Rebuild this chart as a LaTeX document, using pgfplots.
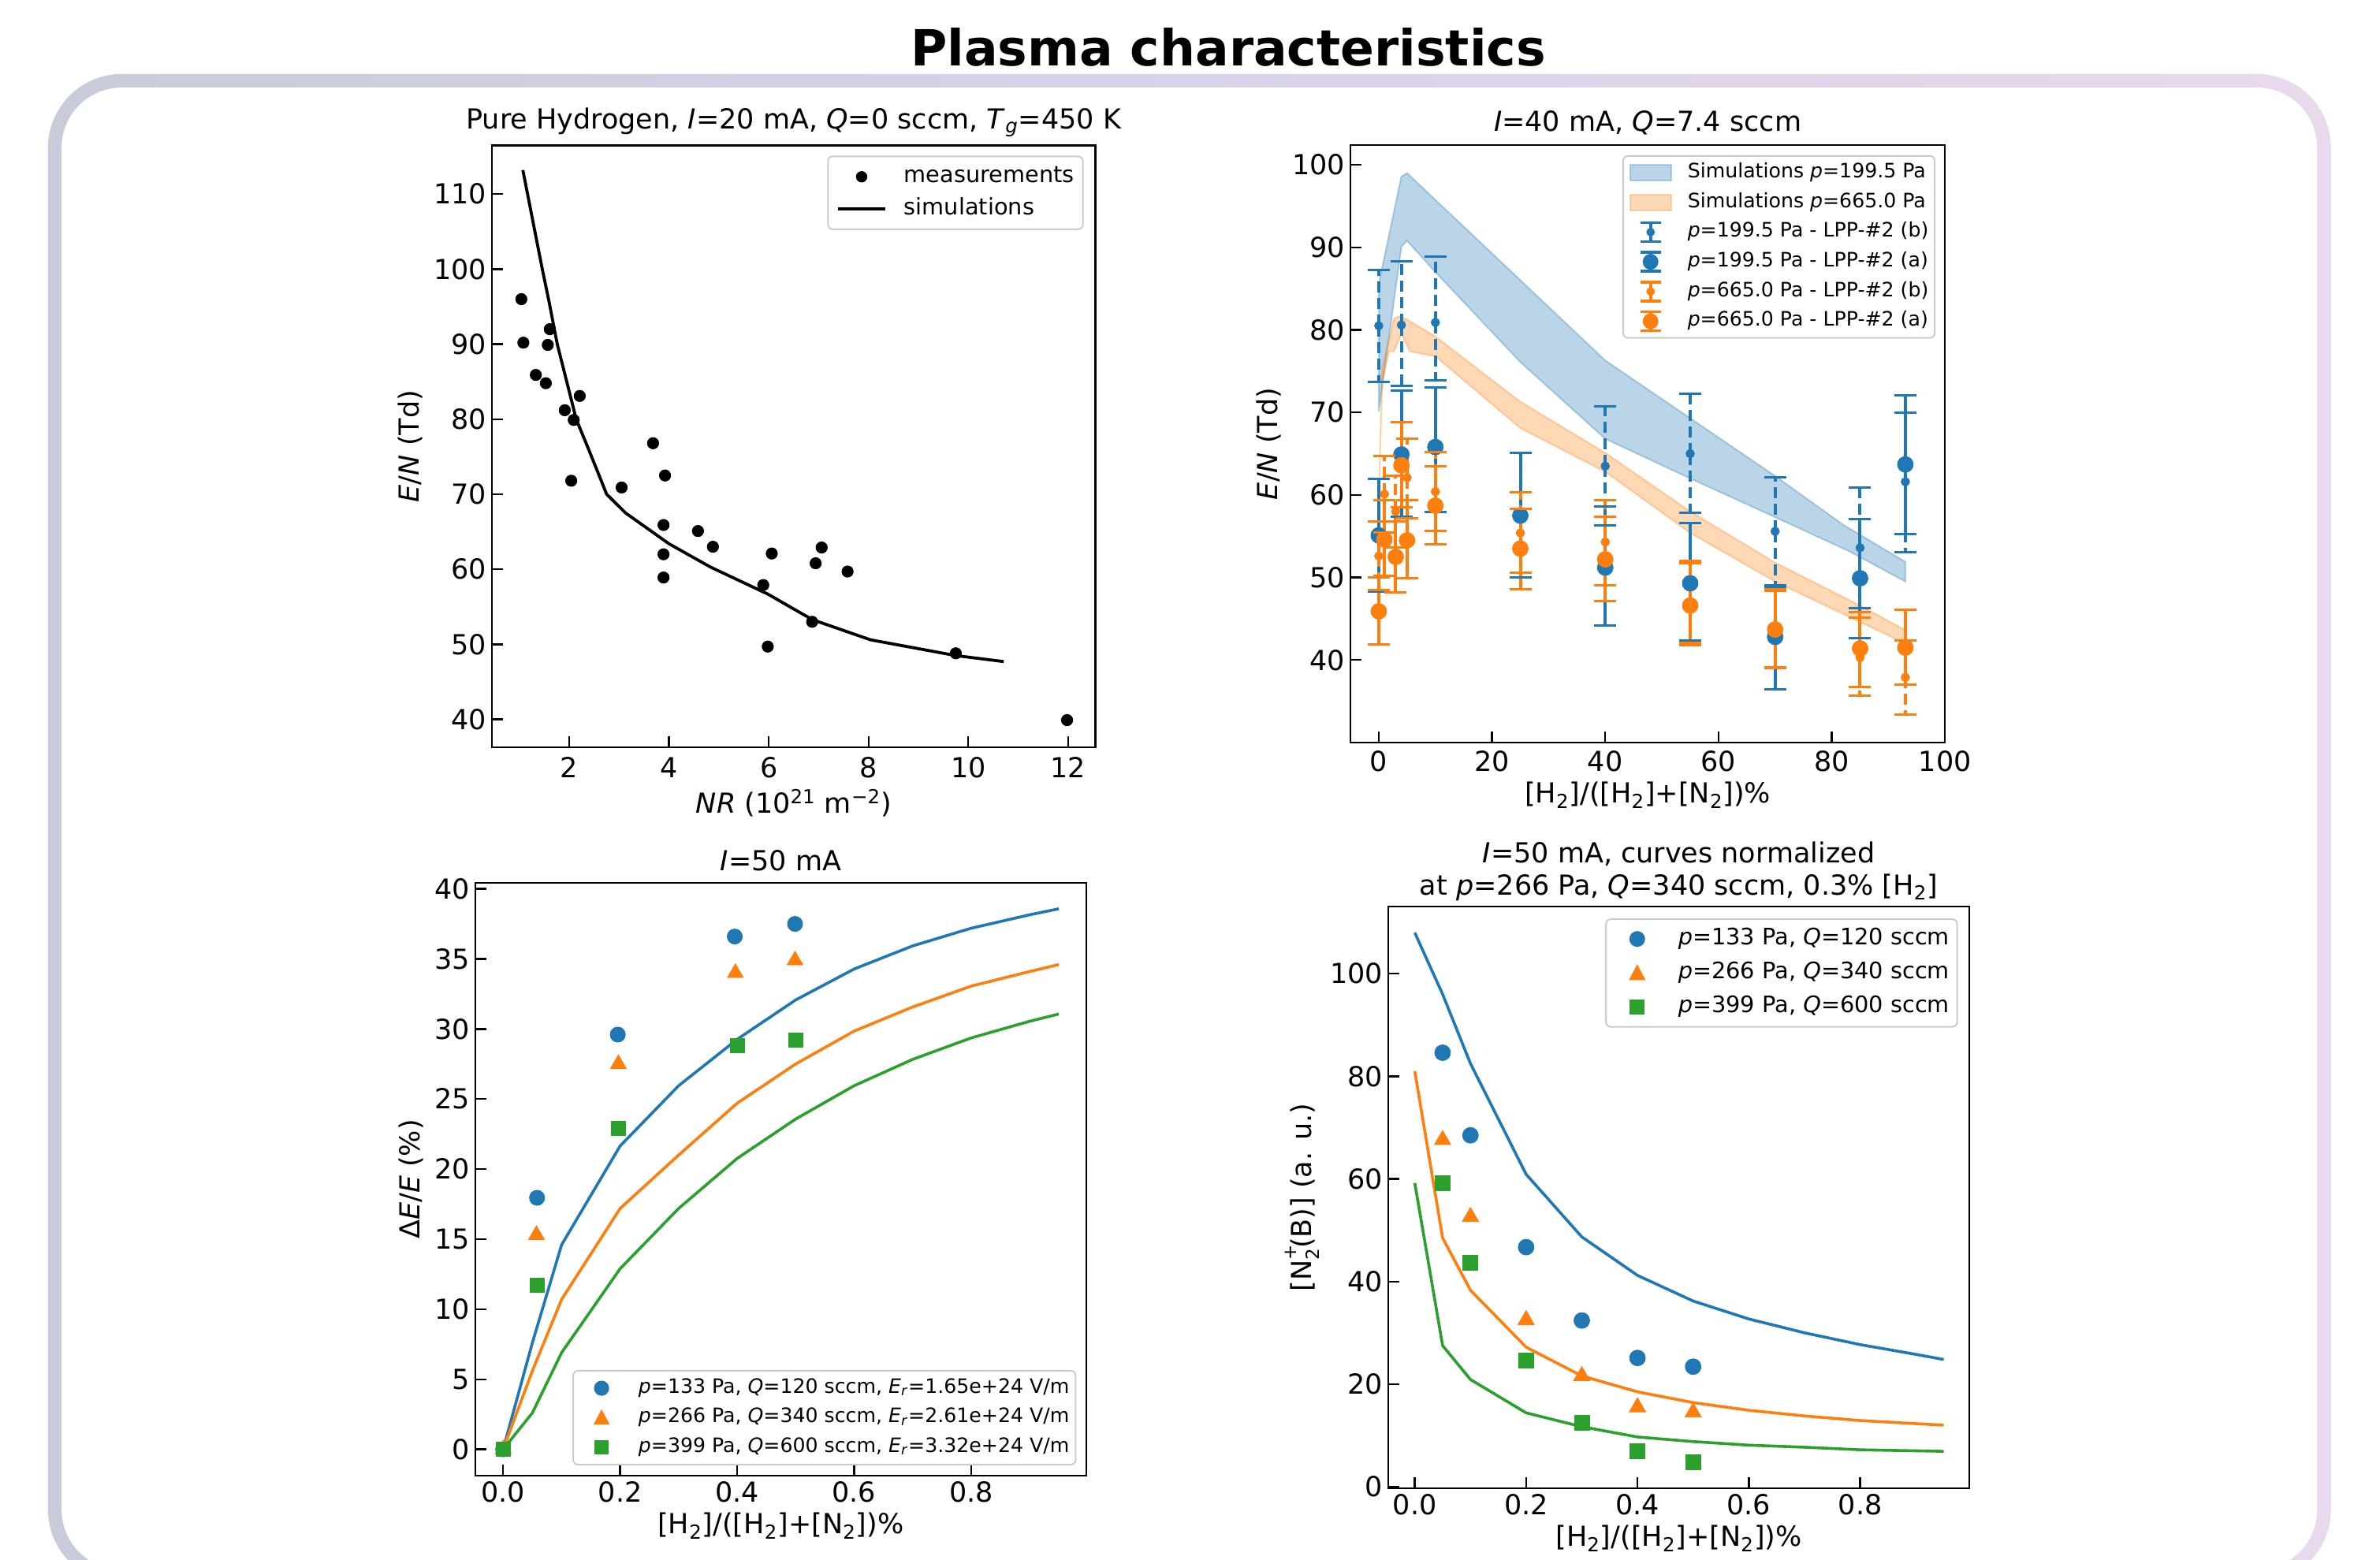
\documentclass[border=0pt]{standalone}
\usepackage{fontspec}
\setmainfont{DejaVu Sans}
\usepackage{pgfplots}
\usepackage{pgfplotstable}
\pgfplotsset{compat=1.18}

\definecolor{c1}{HTML}{1F77B4}
\definecolor{c2}{HTML}{FF7F0E}
\definecolor{c3}{HTML}{2CA02C}
\definecolor{frameL}{RGB}{200,204,218}
\definecolor{frameM}{RGB}{216,210,234}
\definecolor{frameR}{RGB}{233,217,236}
\definecolor{legframe}{RGB}{204,204,204}

\newcommand{\fm}{\fontsize{17.5}{20}\selectfont}
\newcommand{\fl}{\fontsize{14.4}{17}\selectfont}
\newcommand{\fs}{\fontsize{12.6}{15}\selectfont}

\pgfdeclareplotmark{hcap}{\pgfpathmoveto{\pgfqpoint{-7pt}{0pt}}\pgfpathlineto{\pgfqpoint{7pt}{0pt}}\pgfusepathqstroke}

\pgfplotsset{
  panel/.style={
    scale only axis, anchor=south west,
    axis line style={line width=1.2pt},
    every tick/.style={black, line width=1.2pt},
    major tick length=7pt,
    tick align=inside,
    xtick pos=left, ytick pos=left,
    font=\fm,
    tick label style={font=\fm},
    label style={font=\fm},
    title style={font=\fm},
    /pgf/number format/assume math mode=true,
    legend cell align=left,
    legend style={draw=legframe, line width=1pt, rounded corners=3pt, fill=white},
  },
  leg/.style n args={6}{legend style={font=#1, inner xsep=#2, inner ysep=#3,
      nodes={inner sep=0pt, text height=#4, text depth=#5},
      /tikz/every odd column/.style={column sep=#6}}},
  eb/.style={forget plot, only marks, mark=*,
    error bars/y dir=both, error bars/y explicit, error bars/error mark=none},
  cap/.style={forget plot, only marks, mark=hcap, mark options={solid, line width=1.5pt}},
}

\pgfplotstableread{
x y ep em
0 80.5 6.8 6.8
4 80.6 7.7 7.4
10 80.9 8.0 7.0
40 63.5 7.2 7.2
55 65.0 7.3 7.2
70 55.6 6.5 6.5
85 53.6 7.3 7.3
93 61.6 8.4 8.5
}\blueb
\pgfplotstableread{
x y ep em
0 55.1 6.8 6.8
4 64.9 7.7 7.5
10 65.8 7.2 7.9
25 57.5 7.6 7.5
40 51.2 7.4 7.0
55 49.3 7.3 6.9
70 42.8 6.1 6.4
85 49.9 7.2 7.2
93 63.7 8.4 8.4
}\bluea
\pgfplotstableread{
x y ep em
0 52.6 4.2 4.1
1 60.1 4.6 4.6
3 58.0 4.3 4.4
5 62.1 4.7 4.9
10 60.4 4.8 4.8
25 55.4 4.9 4.8
40 54.3 5.1 5.2
55 46.9 5.1 4.8
70 43.8 4.8 4.7
85 40.3 4.8 4.6
93 37.9 4.5 4.5
}\orangeb
\pgfplotstableread{
x y ep em
0 45.9 4.1 4.0
1 54.6 4.8 4.4
3 52.5 4.3 4.3
4 63.6 5.2 5.1
5 54.5 4.9 4.6
10 58.7 4.8 4.7
25 53.5 4.8 4.9
40 52.2 5.2 5.1
55 46.6 5.1 4.8
70 43.7 4.7 4.7
85 41.4 4.4 4.7
93 41.5 4.6 4.5
}\orangea

\begin{document}
\begin{tikzpicture}
\fill[white] (0,0) rectangle (1509.5pt,989.5pt);
\path[use as bounding box] (0,0) rectangle (1509.5pt,989.5pt);
\begin{scope}
\clip (0,0) rectangle (1509.5pt,989.5pt);
\shade[rounded corners=47pt, left color=frameL, right color=frameR, middle color=frameM] (30.4pt,-14.9pt) rectangle (1478.4pt,942.6pt);
\fill[white, rounded corners=38pt] (39.1pt,-6.1pt) rectangle (1469.6pt,933.9pt);
\end{scope}
\node[font=\fontsize{31.6}{36}\selectfont\bfseries, anchor=base] at (779pt,947.5pt) {Plasma characteristics};

% ---------------- Panel 1
\begin{axis}[panel, at={(312pt,515.6pt)}, width=382.8pt, height=381.7pt,
  xmin=0.45, xmax=12.55, ymin=36.3, ymax=116.5,
  xtick={2,4,6,8,10,12}, ytick={40,50,60,70,80,90,100,110},
  xticklabel style={yshift=-3pt},
  title style={yshift=-4pt},
  title={Pure Hydrogen, \textit{I}=20 mA, \textit{Q}=0 sccm, \textit{T}\textsubscript{\textit{g}}=450 K},
  xlabel={\textit{NR} (10\textsuperscript{21} m\textsuperscript{−2})},
  ylabel={\textit{E}/\textit{N} (Td)},
  leg={\fl}{5.4pt}{2.8pt}{13.75pt}{6.55pt}{11pt},
  legend style={at={(1,1)}, anchor=north east, xshift=-7.5pt, yshift=-6.5pt}]
\addlegendimage{legend image code/.code={\path[draw=none] (0pt,-5pt) rectangle (30pt,5pt); \fill[black, draw=none] (15pt,0pt) circle (3.6pt);}}
\addlegendentry{measurements}
\addlegendimage{legend image code/.code={\path[draw=none] (0pt,-5pt) rectangle (30pt,5pt); \draw[black, line width=1.9pt] (0pt,0pt) -- (30pt,0pt);}}
\addlegendentry{simulations}
\addplot[forget plot, only marks, mark=*, mark size=3.6pt, black] coordinates {
(1.04,96.0) (1.08,90.2) (1.33,85.9) (1.53,84.8) (1.57,89.9) (1.61,92.0)
(1.91,81.2) (2.04,71.8) (2.09,79.9) (2.21,83.1) (3.05,70.9) (3.68,76.8)
(3.92,72.5) (3.89,65.9) (3.89,62.0) (3.89,58.9) (4.58,65.1) (4.88,63.0)
(5.89,57.9) (5.98,49.7) (6.06,62.1) (6.87,53.0) (6.94,60.8) (7.06,62.9)
(7.58,59.7) (9.75,48.8) (11.98,39.9)};
\addplot[forget plot, black, line width=1.9pt] coordinates {
(1.07,113.2) (1.2,108.8) (1.3,105.4) (1.46,100) (1.6,95.5) (1.76,90)
(1.95,85) (2.14,80) (2.4,75.8) (2.75,70) (3.13,67.5) (4.0,63.4)
(4.83,60.3) (5.98,56.7) (6.87,53.3) (8.04,50.6) (9.75,48.5) (10.71,47.7)};
\end{axis}

% ---------------- Panel 2
\begin{axis}[panel, at={(856.5pt,518.5pt)}, width=377.1pt, height=379pt,
  xmin=-5, xmax=100, ymin=30, ymax=102.4,
  xtick={0,20,40,60,80,100}, ytick={40,50,60,70,80,90,100},
  xticklabel style={yshift=-1.5pt},
  title style={yshift=-3pt},
  title={\textit{I}=40 mA, \textit{Q}=7.4 sccm},
  xlabel={[H\textsubscript{2}]/([H\textsubscript{2}]+[N\textsubscript{2}])\%},
  ylabel={\textit{E}/\textit{N} (Td)},
  leg={\fs}{3.9pt}{1.1pt}{12.575pt}{6.275pt}{10pt},
  legend style={at={(1,1)}, anchor=north east, xshift=-6pt, yshift=-6.5pt}]
\addlegendimage{legend image code/.code={\fill[c1, fill opacity=0.3, draw=none, sharp corners] (0pt,-5pt) rectangle (26pt,5pt); \draw[c1, draw opacity=0.3, line width=1pt, sharp corners] (0pt,-5pt) rectangle (26pt,5pt);}}
\addlegendentry{Simulations \textit{p}=199.5 Pa}
\addlegendimage{legend image code/.code={\fill[c2, fill opacity=0.3, draw=none, sharp corners] (0pt,-5pt) rectangle (26pt,5pt); \draw[c2, draw opacity=0.3, line width=1pt, sharp corners] (0pt,-5pt) rectangle (26pt,5pt);}}
\addlegendentry{Simulations \textit{p}=665.0 Pa}
\addlegendimage{legend image code/.code={\path[draw=none] (0pt,-6pt) rectangle (26pt,6pt); \draw[c1, line width=1.8pt, sharp corners] (13pt,-6pt) -- (13pt,6pt) (6.5pt,-6pt) -- (19.5pt,-6pt) (6.5pt,6pt) -- (19.5pt,6pt); \fill[c1, draw=none] (13pt,0pt) circle (2.7pt);}}
\addlegendentry{\textit{p}=199.5 Pa - LPP-\#2 (b)}
\addlegendimage{legend image code/.code={\path[draw=none] (0pt,-6pt) rectangle (26pt,6pt); \draw[c1, line width=1.8pt, sharp corners] (13pt,-6pt) -- (13pt,6pt) (6.5pt,-6pt) -- (19.5pt,-6pt) (6.5pt,6pt) -- (19.5pt,6pt); \fill[c1, draw=none] (13pt,0pt) circle (5pt);}}
\addlegendentry{\textit{p}=199.5 Pa - LPP-\#2 (a)}
\addlegendimage{legend image code/.code={\path[draw=none] (0pt,-6pt) rectangle (26pt,6pt); \draw[c2, line width=1.8pt, sharp corners] (13pt,-6pt) -- (13pt,6pt) (6.5pt,-6pt) -- (19.5pt,-6pt) (6.5pt,6pt) -- (19.5pt,6pt); \fill[c2, draw=none] (13pt,0pt) circle (2.7pt);}}
\addlegendentry{\textit{p}=665.0 Pa - LPP-\#2 (b)}
\addlegendimage{legend image code/.code={\path[draw=none] (0pt,-6pt) rectangle (26pt,6pt); \draw[c2, line width=1.8pt, sharp corners] (13pt,-6pt) -- (13pt,6pt) (6.5pt,-6pt) -- (19.5pt,-6pt) (6.5pt,6pt) -- (19.5pt,6pt); \fill[c2, draw=none] (13pt,0pt) circle (5pt);}}
\addlegendentry{\textit{p}=665.0 Pa - LPP-\#2 (a)}
% bands
\addplot[forget plot, fill=c1, fill opacity=0.3, draw=c1, draw opacity=0.3, line width=1pt] coordinates {
(0,85.6) (4,98.6) (5,99.0) (40,76.3) (55,69.3) (70,62.3) (82,56.4) (93,51.9)
(93,49.5) (83,53.2) (70,57.3) (55,62.0) (40,66.8) (25,76.1) (10,87.0) (5,90.8) (4,90.1) (0,70.1) (0,85.6)};
\addplot[forget plot, fill=c2, fill opacity=0.3, draw=c2, draw opacity=0.3, line width=1pt] coordinates {
(0.1,62) (0.6,75.4) (1.8,78.8) (2.7,81.4) (3.6,81.6) (4.6,81.4) (10,79.2) (25,71.3) (40,65.1) (55,58.0) (70,51.8) (85,46.6) (93,43.6)
(93,42.0) (85,44.6) (70,49.5) (55,55.4) (40,62.8) (25,68.1) (10,76.8) (5.5,77.4) (4,79.5) (2.7,77.4) (1.8,77.4) (0.6,73.5) (0.1,62)};
% blue (b)
\addplot[eb, mark size=2.7pt, c1, error bars/error bar style={line width=2pt, dash pattern=on 7pt off 3.5pt}]
  table[x=x, y=y, y error plus=ep, y error minus=em] {\blueb};
\addplot[cap, c1] table[x=x, y expr=\thisrow{y}+\thisrow{ep}] {\blueb};
\addplot[cap, c1] table[x=x, y expr=\thisrow{y}-\thisrow{em}] {\blueb};
% blue (a)
\addplot[eb, mark size=5pt, c1, error bars/error bar style={line width=2pt}]
  table[x=x, y=y, y error plus=ep, y error minus=em] {\bluea};
\addplot[cap, c1] table[x=x, y expr=\thisrow{y}+\thisrow{ep}] {\bluea};
\addplot[cap, c1] table[x=x, y expr=\thisrow{y}-\thisrow{em}] {\bluea};
% orange (b)
\addplot[eb, mark size=2.7pt, c2, error bars/error bar style={line width=2pt, dash pattern=on 7pt off 3.5pt}]
  table[x=x, y=y, y error plus=ep, y error minus=em] {\orangeb};
\addplot[cap, c2] table[x=x, y expr=\thisrow{y}+\thisrow{ep}] {\orangeb};
\addplot[cap, c2] table[x=x, y expr=\thisrow{y}-\thisrow{em}] {\orangeb};
% orange (a)
\addplot[eb, mark size=5pt, c2, error bars/error bar style={line width=2pt}]
  table[x=x, y=y, y error plus=ep, y error minus=em] {\orangea};
\addplot[cap, c2] table[x=x, y expr=\thisrow{y}+\thisrow{ep}] {\orangea};
\addplot[cap, c2] table[x=x, y expr=\thisrow{y}-\thisrow{em}] {\orangea};
\end{axis}

% ---------------- Panel 3
\begin{axis}[panel, at={(301.4pt,53.5pt)}, width=387.6pt, height=376pt,
  xmin=-0.0477, xmax=0.997, ymin=-1.88, ymax=40.43,
  xtick={0,0.2,0.4,0.6,0.8}, xticklabels={0.0,0.2,0.4,0.6,0.8},
  ytick={0,5,10,15,20,25,30,35,40},
  title style={yshift=-2pt},
  title={\textit{I}=50 mA},
  xlabel={[H\textsubscript{2}]/([H\textsubscript{2}]+[N\textsubscript{2}])\%},
  ylabel={Δ\textit{E}/\textit{E} (\%)},
  leg={\fs}{4pt}{1.7pt}{12.5pt}{6.2pt}{9.4pt},
  legend style={at={(1,0)}, anchor=south east, xshift=-6.3pt, yshift=6.5pt}]
\addlegendimage{legend image code/.code={\path[draw=none] (0pt,-5pt) rectangle (28pt,5pt); \fill[c1, draw=none] (14pt,0pt) circle (4.8pt);}}
\addlegendentry{\textit{p}=133 Pa, \textit{Q}=120 sccm, \textit{E}\textsubscript{\textit{r}}=1.65e+24 V/m}
\addlegendimage{legend image code/.code={\path[draw=none] (0pt,-5pt) rectangle (28pt,5pt); \fill[c2, draw=none, sharp corners] (14pt,5.3pt) -- (8.9pt,-4.3pt) -- (19.1pt,-4.3pt) -- cycle;}}
\addlegendentry{\textit{p}=266 Pa, \textit{Q}=340 sccm, \textit{E}\textsubscript{\textit{r}}=2.61e+24 V/m}
\addlegendimage{legend image code/.code={\path[draw=none] (0pt,-5pt) rectangle (28pt,5pt); \fill[c3, draw=none, sharp corners] (9.5pt,-4.5pt) rectangle (18.5pt,4.5pt);}}
\addlegendentry{\textit{p}=399 Pa, \textit{Q}=600 sccm, \textit{E}\textsubscript{\textit{r}}=3.32e+24 V/m}
\addplot[forget plot, c1, line width=1.8pt] coordinates {(0,0) (0.05,7.6) (0.1,14.6) (0.2,21.65) (0.3,25.95) (0.4,29.26) (0.5,32.07) (0.6,34.28) (0.7,35.93) (0.8,37.19) (0.9,38.15) (0.95,38.58)};
\addplot[forget plot, c2, line width=1.8pt] coordinates {(0,0) (0.05,5.6) (0.1,10.7) (0.2,17.19) (0.3,21.0) (0.4,24.7) (0.5,27.5) (0.6,29.85) (0.7,31.57) (0.8,33.06) (0.9,34.1) (0.95,34.6)};
\addplot[forget plot, c3, line width=1.8pt] coordinates {(0,0) (0.05,2.6) (0.1,6.9) (0.2,12.89) (0.3,17.19) (0.4,20.76) (0.5,23.57) (0.6,25.95) (0.7,27.83) (0.8,29.36) (0.9,30.55) (0.95,31.07)};
\addplot[forget plot, only marks, mark=*, mark size=4.8pt, c1] coordinates {(0,0) (0.058,17.95) (0.196,29.6) (0.396,36.6) (0.499,37.5)};
\addplot[forget plot, only marks, mark=triangle*, mark size=5.8pt, c2] coordinates {(0,0) (0.057,15.3) (0.197,27.5) (0.397,34.0) (0.499,34.9)};
\addplot[forget plot, only marks, mark=square*, mark size=4.5pt, c3] coordinates {(0,0) (0.058,11.7) (0.197,22.9) (0.401,28.8) (0.5,29.2)};
\end{axis}

% ---------------- Panel 4
\begin{axis}[panel, at={(880.5pt,45.5pt)}, width=368.5pt, height=369pt,
  xmin=-0.0476, xmax=0.996, ymin=-0.3, ymax=113.1,
  xtick={0,0.2,0.4,0.6,0.8}, xticklabels={0.0,0.2,0.4,0.6,0.8},
  ytick={0,20,40,60,80,100},
  title style={align=center, font=\fontsize{17.5}{20.5}\selectfont, yshift=-6pt},
  title={\textit{I}=50 mA, curves normalized\\at \textit{p}=266 Pa, \textit{Q}=340 sccm, 0.3\% [H\textsubscript{2}]},
  xlabel={[H\textsubscript{2}]/([H\textsubscript{2}]+[N\textsubscript{2}])\%},
  ylabel={[N\rlap{\raisebox{1.0ex}{\fontsize{11.5}{12}\selectfont +}}\raisebox{-0.5ex}{\fontsize{11.5}{12}\selectfont 2}(B)] (a. u.)},
  leg={\fl}{4.8pt}{1.7pt}{14.4pt}{7.2pt}{11pt},
  legend style={at={(1,1)}, anchor=north east, xshift=-7.2pt, yshift=-7.6pt}]
\addlegendimage{legend image code/.code={\path[draw=none] (0pt,-5pt) rectangle (30pt,5pt); \fill[c1, draw=none] (15pt,0pt) circle (5pt);}}
\addlegendentry{\textit{p}=133 Pa, \textit{Q}=120 sccm}
\addlegendimage{legend image code/.code={\path[draw=none] (0pt,-5pt) rectangle (30pt,5pt); \fill[c2, draw=none, sharp corners] (15pt,5.6pt) -- (9.7pt,-4.5pt) -- (20.3pt,-4.5pt) -- cycle;}}
\addlegendentry{\textit{p}=266 Pa, \textit{Q}=340 sccm}
\addlegendimage{legend image code/.code={\path[draw=none] (0pt,-5pt) rectangle (30pt,5pt); \fill[c3, draw=none, sharp corners] (10.2pt,-4.8pt) rectangle (19.8pt,4.8pt);}}
\addlegendentry{\textit{p}=399 Pa, \textit{Q}=600 sccm}
\addplot[forget plot, c1, line width=1.8pt] coordinates {(0,108.0) (0.05,96.0) (0.1,82.5) (0.2,60.9) (0.3,48.7) (0.4,41.2) (0.5,36.2) (0.6,32.7) (0.7,30.0) (0.8,27.7) (0.9,25.8) (0.95,24.8)};
\addplot[forget plot, c2, line width=1.8pt] coordinates {(0,81.0) (0.05,48.5) (0.1,38.3) (0.2,27.2) (0.3,21.6) (0.4,18.5) (0.5,16.4) (0.6,14.9) (0.7,13.8) (0.8,12.9) (0.9,12.3) (0.95,12.0)};
\addplot[forget plot, c3, line width=1.8pt] coordinates {(0,59.2) (0.05,27.5) (0.1,20.9) (0.2,14.4) (0.3,11.7) (0.4,9.7) (0.5,8.8) (0.6,8.1) (0.7,7.7) (0.8,7.2) (0.9,7.0) (0.95,6.9)};
\addplot[forget plot, only marks, mark=*, mark size=5pt, c1] coordinates {(0.05,84.6) (0.1,68.5) (0.2,46.7) (0.3,32.4) (0.4,25.1) (0.5,23.4)};
\addplot[forget plot, only marks, mark=triangle*, mark size=6pt, c2] coordinates {(0.05,67.6) (0.1,52.6) (0.2,32.5) (0.3,21.6) (0.4,15.5) (0.5,14.5)};
\addplot[forget plot, only marks, mark=square*, mark size=4.8pt, c3] coordinates {(0.05,59.2) (0.1,43.7) (0.2,24.6) (0.3,12.5) (0.4,6.9) (0.5,4.8)};
\end{axis}
\end{tikzpicture}
\end{document}
